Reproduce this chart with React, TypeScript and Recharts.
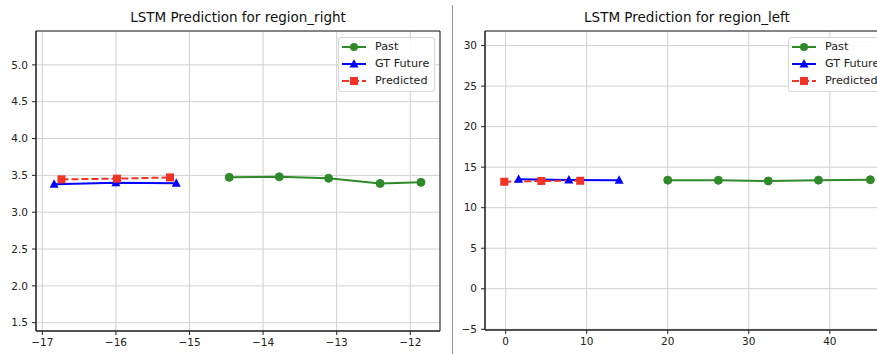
import { LineChart, Line, XAxis, YAxis, CartesianGrid, ReferenceArea } from "recharts";

// region_right
const rPastX = [-14.46, -13.78, -13.11, -12.41, -11.855];
const rPastY = [3.473, 3.48, 3.46, 3.39, 3.405];
const rGtX = [-16.84, -16.0, -15.18];
const rGtY = [3.378, 3.4, 3.392];
const rPredX = [-16.74, -15.985, -15.265];
const rPredY = [3.446, 3.455, 3.472];
const rXTicks = [-17, -16, -15, -14, -13, -12];
const rYTicks = [1.5, 2.0, 2.5, 3.0, 3.5, 4.0, 4.5, 5.0];

// region_left
const lPastX = [20.0, 26.25, 32.4, 38.6, 45.0];
const lPastY = [13.4, 13.38, 13.3, 13.4, 13.45];
const lGtX = [1.6, 7.8, 14.0];
const lGtY = [13.5, 13.42, 13.4];
const lPredX = [-0.17, 4.4, 9.2];
const lPredY = [13.2, 13.3, 13.32];
const lXTicks = [0, 10, 20, 30, 40];
const lYTicks = [-5, 0, 5, 10, 15, 20, 25, 30];

const GREEN = "#2f8a2a";
const BLUE = "#0000ff";
const RED = "#f03326";
const FONT = "'DejaVu Sans', sans-serif";

const toPts = (xs: number[], ys: number[]) => xs.map((x, i) => ({ x, y: ys[i] }));
const minus = (s: string) => s.replace("-", "\u2212");

const Circle = (p: any) => <circle key={p.key ?? p.index} cx={p.cx} cy={p.cy} r={4} fill={GREEN} stroke={GREEN} />;
const Tri = (p: any) => (
  <polygon
    key={p.key ?? p.index}
    points={`${p.cx},${p.cy - 5} ${p.cx - 4.5},${p.cy + 3.5} ${p.cx + 4.5},${p.cy + 3.5}`}
    fill={BLUE}
  />
);
const Sq = (p: any) => <rect key={p.key ?? p.index} x={p.cx - 4} y={p.cy - 4} width={8} height={8} fill={RED} />;

function Panel(props: {
  left: number;
  title: string;
  titleX: number;
  xDomain: [number, number];
  yDomain: [number, number];
  xTicks: number[];
  yTicks: number[];
  yFmt: (v: number) => string;
  margin: { top: number; right: number; bottom: number; left: number };
  past: { x: number; y: number }[];
  gt: { x: number; y: number }[];
  pred: { x: number; y: number }[];
}) {
  const tickStyle = { fontSize: 10.5, fill: "#222", fontFamily: FONT };
  return (
    <div style={{ position: "absolute", left: props.left, top: 0 }}>
      <div
        style={{
          position: "absolute",
          left: props.titleX - 150,
          width: 300,
          top: 9,
          textAlign: "center",
          fontSize: 13.5,
          fontFamily: FONT,
          color: "#111",
        }}
      >
        {props.title}
      </div>
      <LineChart width={450} height={354} margin={props.margin}>
        <CartesianGrid stroke="#d0d0d0" strokeWidth={1} />
        <XAxis
          type="number"
          dataKey="x"
          domain={props.xDomain}
          ticks={props.xTicks}
          allowDataOverflow
          tickFormatter={(v: number) => minus(String(v))}
          tick={tickStyle}
          tickSize={4}
          tickMargin={4}
          stroke="#222"
          height={23}
        />
        <YAxis
          type="number"
          dataKey="y"
          domain={props.yDomain}
          ticks={props.yTicks}
          allowDataOverflow
          tickFormatter={(v: number) => minus(props.yFmt(v))}
          tick={tickStyle}
          tickSize={4}
          tickMargin={4}
          stroke="#222"
          width={30}
        />
        <ReferenceArea
          x1={props.xDomain[0]}
          x2={props.xDomain[1]}
          y1={props.yDomain[0]}
          y2={props.yDomain[1]}
          fill="none"
          stroke="#222"
          strokeWidth={1}
          ifOverflow="visible"
        />
        <Line data={props.past} dataKey="y" stroke={GREEN} strokeWidth={2} dot={Circle} isAnimationActive={false} />
        <Line data={props.gt} dataKey="y" stroke={BLUE} strokeWidth={2} dot={Tri} isAnimationActive={false} />
        <Line
          data={props.pred}
          dataKey="y"
          stroke={RED}
          strokeWidth={2}
          strokeDasharray="7 3"
          dot={Sq}
          isAnimationActive={false}
        />
      </LineChart>
    </div>
  );
}

function LegendBox({ left }: { left: number }) {
  const rows = [
    { label: "Past", color: GREEN, dash: undefined, mark: <circle cx={12} cy={6} r={4} fill={GREEN} /> },
    { label: "GT Future", color: BLUE, dash: undefined, mark: <polygon points="12,1 7.5,9.5 16.5,9.5" fill={BLUE} /> },
    { label: "Predicted", color: RED, dash: "7 3", mark: <rect x={8} y={2} width={8} height={8} fill={RED} /> },
  ];
  return (
    <div
      style={{
        position: "absolute",
        left,
        top: 37,
        width: 95,
        height: 53,
        background: "rgba(255,255,255,0.85)",
        border: "1px solid #d6d6d6",
        borderRadius: 3,
        fontFamily: FONT,
        fontSize: 11.2,
        color: "#222",
      }}
    >
      {rows.map((r, i) => (
        <div key={r.label} style={{ position: "absolute", left: 3, top: 2 + i * 17, height: 13, display: "flex", alignItems: "center", whiteSpace: "nowrap" }}>
          <svg width={25} height={12} style={{ marginRight: 8 }}>
            <line x1={0} y1={6} x2={24} y2={6} stroke={r.color} strokeWidth={2} strokeDasharray={r.dash} />
            {r.mark}
          </svg>
          <span>{r.label}</span>
        </div>
      ))}
    </div>
  );
}

export default function App() {
  return (
    <div style={{ position: "absolute", left: 0, top: 0, width: 877, height: 354, overflow: "hidden", background: "#fff" }}>
      <Panel
        left={0}
        title="LSTM Prediction for region_right"
        titleX={238}
        xDomain={[-17.086, -11.596]}
        yDomain={[1.387, 5.46]}
        xTicks={rXTicks}
        yTicks={rYTicks}
        yFmt={(v) => v.toFixed(1)}
        margin={{ top: 31, right: 10, bottom: 0, left: 6 }}
        past={toPts(rPastX, rPastY)}
        gt={toPts(rGtX, rGtY)}
        pred={toPts(rPredX, rPredY)}
      />
      <Panel
        left={450}
        title="LSTM Prediction for region_left"
        titleX={237}
        xDomain={[-2.55, 47.3]}
        yDomain={[-5.09, 31.8]}
        xTicks={lXTicks}
        yTicks={lYTicks}
        yFmt={(v) => String(v)}
        margin={{ top: 31, right: 11, bottom: 1, left: 5 }}
        past={toPts(lPastX, lPastY)}
        gt={toPts(lGtX, lGtY)}
        pred={toPts(lPredX, lPredY)}
      />
      <LegendBox left={338} />
      <LegendBox left={788} />
      <div style={{ position: "absolute", left: 452, top: 5, width: 1, height: 349, background: "#999" }} />
    </div>
  );
}
